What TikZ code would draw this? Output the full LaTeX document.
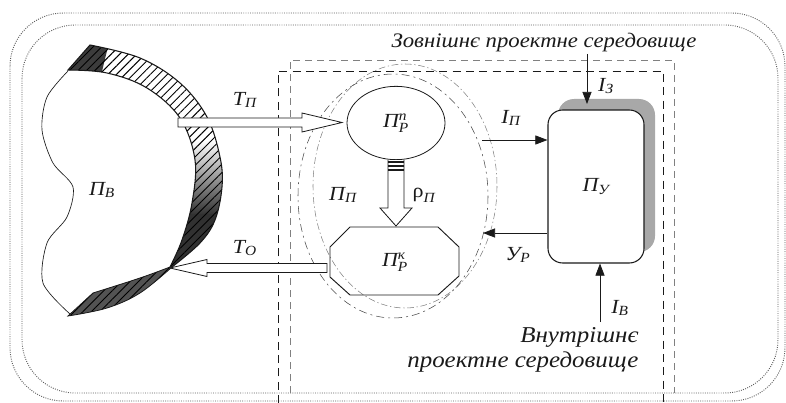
\documentclass[tikz,border=0pt]{standalone}
\usepackage{amsmath}
\usepackage{fontspec}
\setmainfont{Liberation Serif}[FakeStretch=1.1]
\usetikzlibrary{arrows.meta,patterns.meta,shapes.geometric}
\definecolor{ink}{HTML}{1A1A1A}
\definecolor{drop}{HTML}{A8A8A8}
\definecolor{dots}{HTML}{5E5E5E}
\tikzset{sig/.style={-{Triangle[length=3.2mm,width=2.4mm]},semithick,ink},
hollow/.style={draw=ink,fill=white,line width=.6pt,line join=miter},
envbox/.style={dots,densely dotted,line width=.7pt,rounded corners=40pt},
frame/.style={ink,dash pattern=on 6pt off 4pt,line width=.7pt},
hatch/.style={pattern={Lines[angle=45,distance=4.5pt,line width=.7pt]}},
state/.style={draw=ink,fill=white,line width=.6pt,inner sep=0pt},
lab/.style={font=\fontsize{15}{20}\selectfont\itshape,text=ink,inner sep=1pt},
envtext/.style={font=\fontsize{17}{19}\selectfont\itshape,text=ink,inner sep=1pt}}
\newcommand{\idx}[2]{$\text{\itshape #1}_{\text{\itshape #2}}$}
\newcommand{\idxx}[3]{$\text{\itshape #1}^{\text{\itshape #3}}_{\text{\itshape #2}}$}
\def\bandA{plot[smooth,tension=.6] coordinates {(90,45) (140,58) (180,83) (207,117) (220,157) (222,187) (215,220) (200,243) (172,267)}
  -- plot[smooth,tension=.6] coordinates {(170,267) (182,240) (192,203) (195,160) (180,118) (147,88) (107,73) (68,70)} -- cycle}
\def\bandB{plot[smooth,tension=.6] coordinates {(172,267) (140,293) (107,308) (68,316)}
  -- plot[smooth,tension=.6] coordinates {(93,293) (140,278) (170,267)} -- cycle}

\begin{document}
\begin{tikzpicture}[x=.75pt,y=.75pt,yscale=-1]
\useasboundingbox (0,0) rectangle (786,403);
% environments
\draw[envbox] (10,13) rectangle (785,401);
\draw[envbox] (22,25) rectangle (778,393);
\draw[frame] (278,403) -- (278,71) -- (663,71) -- (663,403);
\draw[frame,gray,dash pattern=on 5pt off 4pt] (290,393) -- (290,60) -- (674,60) -- (674,393);
\draw[gray,dash pattern=on 5pt off 2pt on 1pt off 2pt] (405,186) ellipse [x radius=92,y radius=122];
\draw[ink!80,dash pattern=on 6pt off 3pt on 1.5pt off 3pt] (393,196) ellipse [x radius=95,y radius=122];
% external object
\begin{scope}
\clip \bandA;
\fill[ink!85] (60,30) -- (112,30) -- (98,88) -- (60,88) -- cycle;
\shade[top color=white,bottom color=ink!90] (150,140) rectangle (240,215);
\fill[ink!90] (150,214) rectangle (240,330);
\end{scope}
\path[hatch] \bandA;
\draw[ink,line width=.8pt] \bandA;
\fill[ink!75] \bandB;
\path[hatch] \bandB;
\draw[ink,line width=.6pt] \bandB;
\draw[ink,line width=.5pt] plot[smooth] coordinates {(68,71) (47,97) (42,130) (53,163) (73,187) (67,217) (47,243) (43,283) (70,314)};
\node[lab] (pv) at (102,190) {\idx{П}{В}};
% flows
\draw[hollow] (178,118) -- (302,118) -- (302,113) -- (342,122.5) -- (302,132) -- (302,127) -- (178,127) -- cycle;
\draw[hollow] (327,263.5) -- (207,263.5) -- (207,259.5) -- (170,268) -- (207,276.5) -- (207,272.5) -- (327,272.5) -- cycle;
\node[lab] (tp) at (245,100) {\idx{Т}{П}};
\node[lab] (to) at (245,248) {\idx{Т}{О}};
% project
\node[state,ellipse,minimum width=73.5pt,minimum height=55pt,lab] (pn) at (396,123) {\idxx{П}{Р}{п}};
\draw[hollow] (388,160) -- (388,208) -- (380,208) -- (396,226) -- (412,208) -- (404,208) -- (404,160);
\foreach \y in {162,166,170} \draw[ink,line width=1.6pt] (388,\y) -- (404,\y);
\draw[ink,line width=.7pt] (350,227) -- (438,227) -- (459,247) -- (459,276) -- (438,295) -- (350,295) -- (330,277) -- (330,247) -- cycle;
\node[lab] (pk) at (395,262) {\idxx{П}{Р}{к}};
\node[lab] (pp) at (343,195) {\idx{П}{П}};
\node[lab] (rp) at (424,195) {$\text{\upshape ρ}_{\text{\itshape П}}$};
% control
\fill[drop,rounded corners=12pt] (558,99) rectangle (655,252);
\node[state,rounded corners=11pt,minimum width=72pt,minimum height=114.75pt,line width=.8pt,lab] (py) at (596,186.5) {\idx{П}{У}};
\node[envtext,font=\fontsize{15.5}{19}\selectfont\itshape] (ext) at (544,43) {Зовнішнє проектне середовище};
\node[envtext,align=right,anchor=east] (int) at (640,350) {Внутрішнє\\проектне середовище};
\coordinate (iz) at (587,104);
\coordinate (ip) at (482,140);
\coordinate (up) at (483,233);
\coordinate (ib) at (600,322);
\draw[sig] (ext.south -| iz) -- (iz);
\draw[sig] (ip) -- (ip -| py.west);
\draw[sig] (up -| py.west) -- (up);
\draw[sig] (ib) -- (ib |- py.south);
\node[lab] (lz) at (606,86) {\idx{І}{З}};
\node[lab] (lp) at (511,118) {\idx{І}{П}};
\node[lab] (lu) at (518,255) {\idx{У}{Р}};
\node[lab] (lb) at (620,308) {\idx{І}{В}};
\end{tikzpicture}
\end{document}
